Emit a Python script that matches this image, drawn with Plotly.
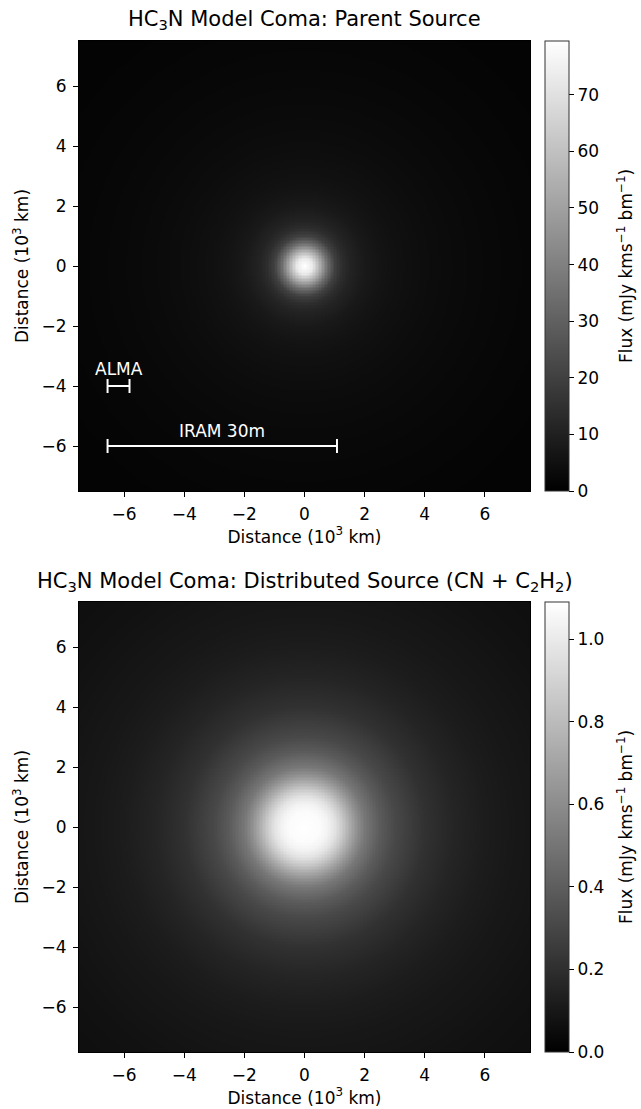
import numpy as np
import plotly.graph_objects as go

# Radial brightness profiles (radius in 10^3 km)
parent_radius = [0.0, 0.25, 0.5, 0.75, 1.0, 1.25, 1.5, 2.0, 2.5, 3.0, 4.0, 5.0, 6.0, 7.0, 7.5, 9.0, 11.0]
parent_flux = [79.5, 73.0, 54.0, 34.0, 20.0, 14.0, 11.0, 7.8, 6.2, 5.2, 4.0, 3.2, 2.6, 2.1, 1.9, 1.4, 1.0]

dist_radius = [0.0, 0.5, 0.75, 1.0, 1.25, 1.5, 1.75, 2.0, 2.5, 3.0, 4.0, 5.0, 6.0, 7.0, 7.5, 9.0, 11.0]
dist_flux = [1.09, 1.075, 1.04, 0.97, 0.86, 0.73, 0.61, 0.51, 0.39, 0.31, 0.21, 0.155, 0.12, 0.10, 0.094, 0.075, 0.058]

# Beam scale bars (10^3 km)
alma_bar_x = [-6.55, -5.82]
alma_bar_y = [-4.0, -4.0]
iram_bar_x = [-6.55, 1.08]
iram_bar_y = [-6.0, -6.0]

axis_ticks = [-6, -4, -2, 0, 2, 4, 6]
parent_cb_ticks = [0, 10, 20, 30, 40, 50, 60, 70]
dist_cb_ticks = [0, 0.2, 0.4, 0.6, 0.8, 1.0]

extent = 7.5
grid = np.linspace(-extent, extent, 301)
X, Y = np.meshgrid(grid, grid)
R = np.hypot(X, Y)
z_parent = np.interp(R, parent_radius, parent_flux)
z_dist = np.interp(R, dist_radius, dist_flux)

W, H = 641, 1109
px0, px1 = 79, 530
top0, top1 = 41, 491
bot0, bot1 = 602, 1052
dom_x = [px0 / W, px1 / W]
dom_top = [1 - top1 / H, 1 - top0 / H]
dom_bot = [1 - bot1 / H, 1 - bot0 / H]

FONT = "DejaVu Sans"
FS = 17
gray = [[0, "black"], [1, "white"]]
cb_title = "Flux (mJy kms<sup>−1</sup> bm<sup>−1</sup>)"


def colorbar(dom, tickvals, fmt):
    return dict(
        x=545 / W, xanchor="left", y=(dom[0] + dom[1]) / 2, yanchor="middle",
        len=(dom[1] - dom[0]), lenmode="fraction", thickness=24, thicknessmode="pixels",
        outlinecolor="#333", outlinewidth=1, ticks="outside", ticklen=5, tickcolor="black",
        tickvals=tickvals, tickformat=fmt,
        tickfont=dict(size=FS, family=FONT, color="black"),
        xpad=0, ypad=0,
    )


fig = go.Figure()
fig.add_trace(go.Heatmap(
    x=grid, y=grid, z=z_parent, colorscale=gray, zmin=0, zmax=max(parent_flux),
    xaxis="x", yaxis="y", hoverinfo="skip", colorbar=colorbar(dom_top, parent_cb_ticks, "d"),
))
fig.add_trace(go.Heatmap(
    x=grid, y=grid, z=z_dist, colorscale=gray, zmin=0, zmax=max(dist_flux),
    xaxis="x2", yaxis="y2", hoverinfo="skip", colorbar=colorbar(dom_bot, dist_cb_ticks, ".1f"),
))

bar_style = dict(mode="lines+markers", line=dict(color="white", width=2),
                 marker=dict(symbol="line-ns-open", size=10, color="white", line=dict(color="white", width=2)),
                 hoverinfo="skip", showlegend=False, xaxis="x", yaxis="y")
fig.add_trace(go.Scatter(x=alma_bar_x, y=alma_bar_y, **bar_style))
fig.add_trace(go.Scatter(x=iram_bar_x, y=iram_bar_y, **bar_style))

xt = "Distance (10<sup>3</sup> km)"


def axis(dom, anchor, standoff):
    return dict(domain=dom, anchor=anchor, range=[-extent, extent], tickvals=axis_ticks,
                ticks="outside", ticklen=5, tickcolor="black", ticklabelstandoff=3,
                showline=True, mirror=True, linecolor="black", linewidth=1,
                showgrid=False, zeroline=False, automargin=False,
                tickfont=dict(size=FS, family=FONT, color="black"),
                title=dict(text=xt, standoff=standoff, font=dict(size=FS, family=FONT, color="black")))


def cb_label(dom):
    return dict(text=cb_title, x=625 / W, y=(dom[0] + dom[1]) / 2, xref="paper", yref="paper",
                showarrow=False, textangle=-90, xanchor="center", yanchor="middle",
                font=dict(size=FS, family=FONT, color="black"))


fig.update_layout(
    width=W, height=H, margin=dict(l=0, r=0, t=0, b=0, autoexpand=False),
    paper_bgcolor="white", plot_bgcolor="black", showlegend=False,
    font=dict(family=FONT, color="black", size=FS),
    xaxis=axis(dom_x, "y", 4),
    yaxis=axis(dom_top, "x", 8),
    xaxis2=axis(dom_x, "y2", 4),
    yaxis2=axis(dom_bot, "x2", 8),
    annotations=[
        dict(text="HC<sub>3</sub>N Model Coma: Parent Source", x=(dom_x[0] + dom_x[1]) / 2, y=1 - 20 / H,
             xref="paper", yref="paper", showarrow=False, font=dict(size=21, family=FONT, color="black"),
             yanchor="middle"),
        dict(text="HC<sub>3</sub>N Model Coma: Distributed Source (CN + C<sub>2</sub>H<sub>2</sub>)",
             x=(dom_x[0] + dom_x[1]) / 2, y=1 - 582 / H,
             xref="paper", yref="paper", showarrow=False, font=dict(size=21, family=FONT, color="black"),
             yanchor="middle"),
        dict(text="ALMA", x=sum(alma_bar_x) / 2, y=alma_bar_y[0], xref="x", yref="y", showarrow=False,
             yanchor="bottom", yshift=5, font=dict(size=FS, family=FONT, color="white")),
        dict(text="IRAM 30m", x=sum(iram_bar_x) / 2, y=iram_bar_y[0], xref="x", yref="y", showarrow=False,
             yanchor="bottom", yshift=3, font=dict(size=FS, family=FONT, color="white")),
        cb_label(dom_top),
        cb_label(dom_bot),
    ],
)

fig.write_html("out.html", config={"displayModeBar": False},
               post_script="document.body.style.margin='0';document.body.style.overflow='hidden';")
